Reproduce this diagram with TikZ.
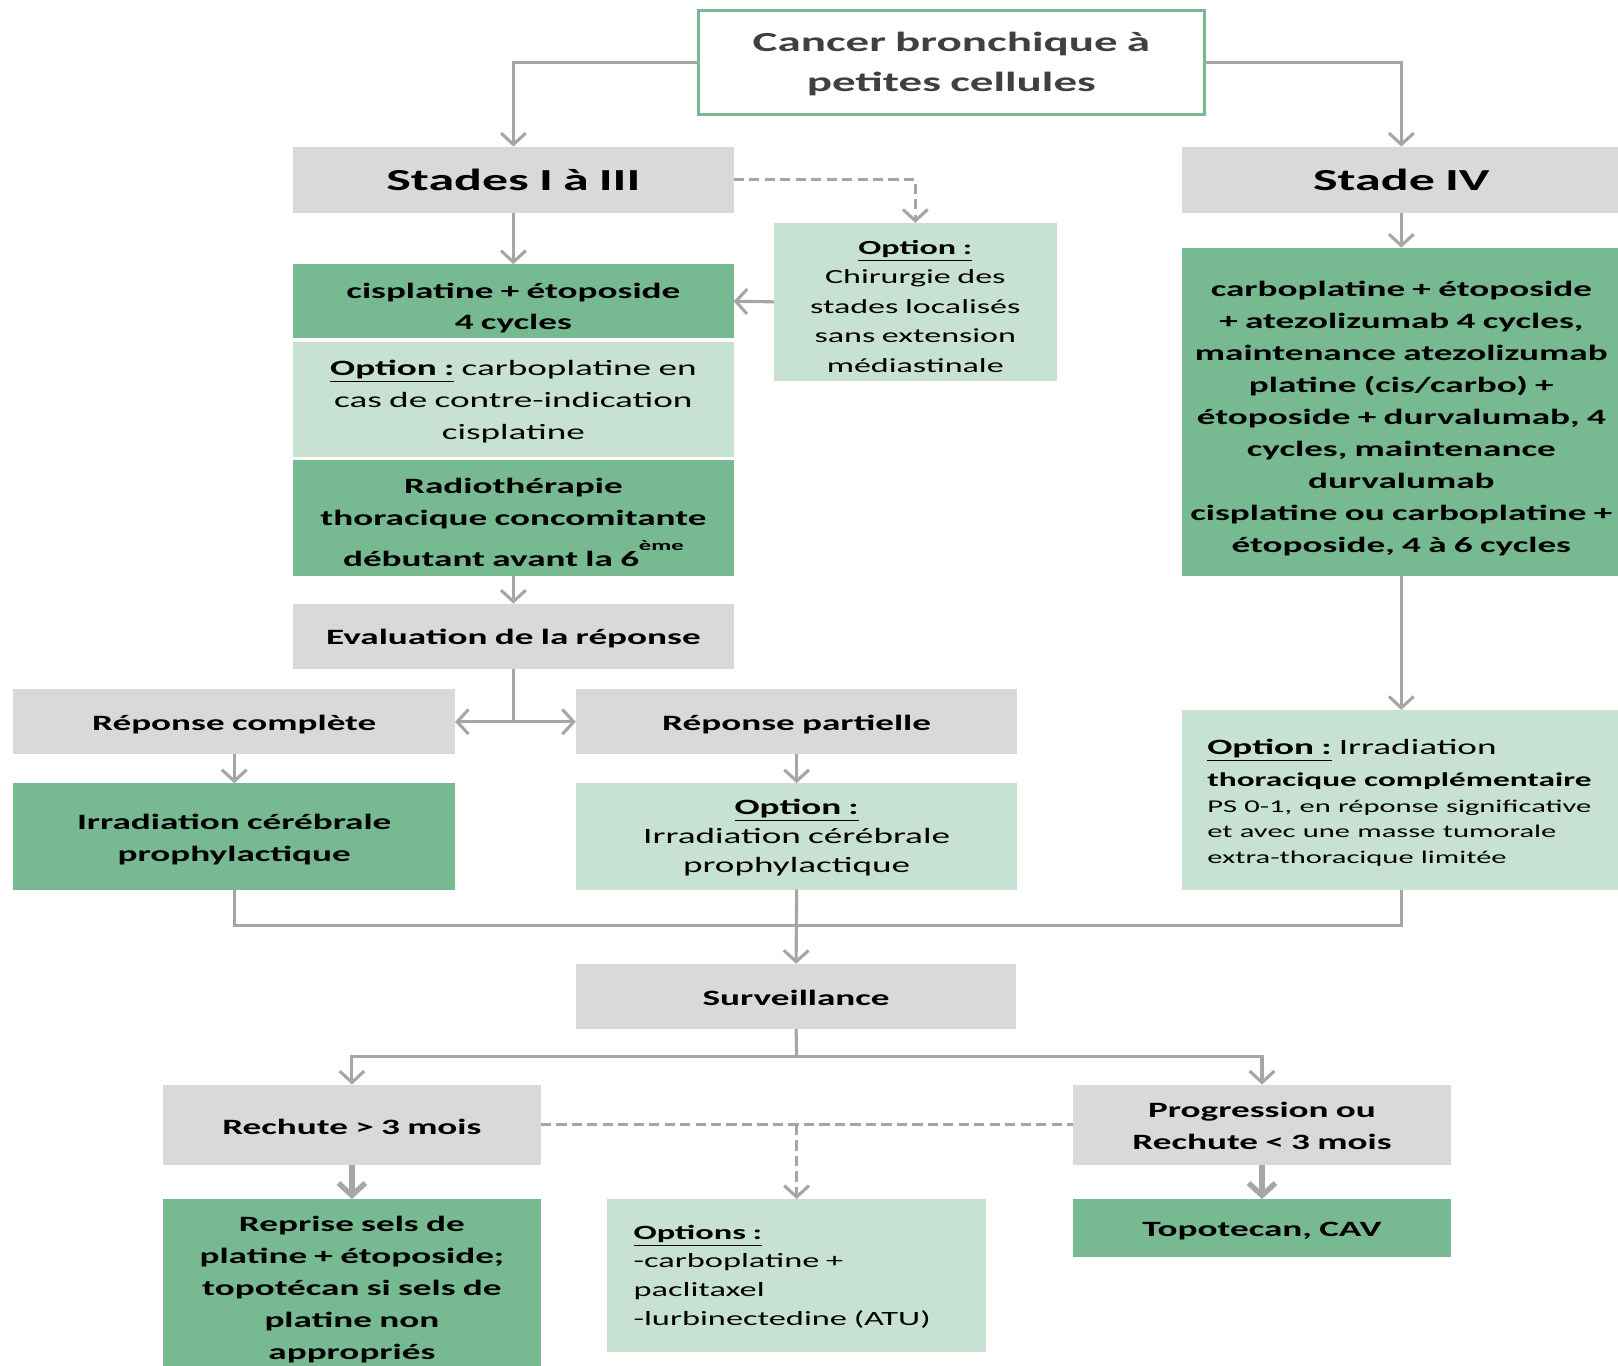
\documentclass[tikz,border=0pt]{standalone}
\usepackage{fontspec}
\setmainfont{Carlito}[FakeStretch=1.7]
\usetikzlibrary{arrows.meta}
\definecolor{boxgray}{HTML}{D9D9D9}
\definecolor{midgreen}{HTML}{77BA92}
\definecolor{lightgreen}{HTML}{C7E2D3}
\definecolor{linegray}{HTML}{A6A6A6}
\definecolor{titletext}{HTML}{404040}
\newcommand\bodyfont{\fontsize{10.6}{15.5}\selectfont\bfseries}
% \bx[text shift down]{name}{style}{x1}{y1}{x2}{y2}{text}
\newcommand\bx[8][0]{%
  \pgfmathsetmacro\bxcx{(#4+#6)/2}%
  \pgfmathsetmacro\bxcy{(#5+#7)/2}%
  \pgfmathsetmacro\bxty{(#5+#7)/2+#1}%
  \pgfmathsetmacro\bxw{(#6-#4)/2}%
  \pgfmathsetmacro\bxh{(#7-#5)/2}%
  \pgfmathsetmacro\bxt{(#6-#4)/2-6}%
  \node[#3, minimum width=\bxw pt, minimum height=\bxh pt] (#2) at (\bxcx,\bxcy) {};%
  \node[#3, fill=none, draw=none, text width=\bxt pt] (#2t) at (\bxcx,\bxty) {#8};%
}
\tikzset{
  base/.style={inner sep=0pt, outer sep=0pt, align=center, font=\bodyfont, text=black},
  graybox/.style={base, fill=boxgray},
  greenbox/.style={base, fill=midgreen},
  lightbox/.style={base, fill=lightgreen},
  ln/.style={draw=linegray, line width=1.5pt},
  tip/.style={-{Straight Barb[length=5.5pt,width=12pt]}},
  arr/.style={ln, tip},
  bigarr/.style={draw=linegray, line width=2.6pt, -{Straight Barb[length=6pt,width=13pt]}},
  dsh/.style={ln, dash pattern=on 5pt off 2.5pt},
}
\begin{document}
\begin{tikzpicture}[x=0.5pt, y=-0.5pt]
\useasboundingbox (0,0) rectangle (1568,1323);
\fill[white] (0,0) rectangle (1568,1323);
% title
\bx[1.5]{title}{base, draw=midgreen, line width=1.6pt, text=titletext, font=\fontsize{13.4}{19.5}\selectfont\bfseries}{677}{10}{1167}{111}{Cancer bronchique à\\petites cellules}
% left column
\bx{s13}{graybox, font=\fontsize{14.8}{18}\selectfont\bfseries}{284}{142}{711}{206}{Stades I à III}
\bx[6.5]{cis}{greenbox}{284}{256}{711}{328}{cisplatine + étoposide\\4 cycles}
\bx[2]{ocarb}{lightbox}{284}{331}{711}{443}{\underline{Option :}\mdseries\ carboplatine en\\cas de contre-indication\\cisplatine}
\bx[4]{radio}{greenbox}{284}{446}{711}{558}{Radiothérapie\\thoracique concomitante\\[4.5pt]débutant avant la 6\raisebox{7.5pt}{\fontsize{7}{7}\selectfont ème}}
\bx[4.5]{ochir}{lightbox, font=\fontsize{9.7}{14.3}\selectfont}{750}{216}{1024}{369}{\textbf{\underline{Option :}}\\Chirurgie des\\stades localisés\\sans extension\\médiastinale}
\bx[2]{eval}{graybox}{284}{585}{711}{648}{Evaluation de la réponse}
\bx[3]{rc}{graybox}{13}{668}{441}{731}{Réponse complète}
\bx[3]{rp}{graybox}{558}{668}{986}{731}{Réponse partielle}
\bx[3]{irc}{greenbox}{13}{759}{441}{862}{Irradiation cérébrale\\prophylactique}
\bx[1]{oirc}{lightbox, font=\fontsize{10.6}{14}\selectfont\bfseries}{558}{759}{986}{862}{\underline{Option :}\\\mdseries Irradiation cérébrale\\prophylactique}
% right column
\bx{s4}{graybox, font=\fontsize{14.8}{18}\selectfont\bfseries}{1145}{142}{1571}{206}{Stade IV}
\bx[6.5]{big}{greenbox}{1145}{240}{1571}{558}{carboplatine + étoposide\\+ atezolizumab 4 cycles,\\maintenance atezolizumab\\platine (cis/carbo) +\\étoposide + durvalumab, 4\\cycles, maintenance\\durvalumab\\cisplatine ou carboplatine +\\étoposide, 4 à 6 cycles}
\node[lightbox, minimum width=213pt, minimum height=87pt, anchor=north west] (opth) at (1145,688) {};
\node[base, align=left, anchor=north west, text width=210pt] (opthtxt) at (1170,716) {{\underline{Option :}\mdseries\ Irradiation\\{\fontsize{9.5}{15}\selectfont\bfseries thoracique complémentaire}\par}{\mdseries\fontsize{8.7}{12.5}\selectfont PS 0-1, en réponse significative\\et avec une masse tumorale\\extra-thoracique limitée\par}};
% bottom
\bx[2]{surv}{graybox}{558}{934}{985}{997}{Surveillance}
\bx[2]{r3}{graybox}{158}{1051}{524}{1129}{Rechute > 3 mois}
\bx[1]{prog}{graybox}{1040}{1051}{1406}{1129}{Progression ou\\Rechute < 3 mois}
\bx[1.5]{reprise}{greenbox}{158}{1162}{524}{1335}{Reprise sels de\\platine + étoposide;\\topotécan si sels de\\platine non\\appropriés}
\node[lightbox, minimum width=184pt, minimum height=74pt, anchor=north west] (opts) at (588,1162) {};
\node[base, align=left, anchor=north west, text width=170pt, font=\fontsize{9.8}{14}\selectfont] (optstxt) at (614,1187) {\textbf{\underline{Options :}}\\-carboplatine +\\paclitaxel\\-lurbinectedine (ATU)};
\bx[3]{topo}{greenbox}{1040}{1162}{1406}{1218}{Topotecan, CAV}
% connectors
\draw[arr] (title.west) -| (s13.north);
\draw[arr] (title.east) -| (s4.north);
\draw[dsh, tip] (s13.east) -| (ochir.north);
\draw[arr] (ochir.west) -- (cis.east);
\draw[arr] (s13.south) -- (cis.north);
\draw[arr] (radio.south) -- (eval.north);
\coordinate (j1) at (eval.south |- rc.east);
\draw[ln] (eval.south) -- (j1);
\draw[arr] (j1) -- (rc.east);
\draw[arr] (j1) -- (rp.west);
\draw[arr] (rc.south) -- (irc.north);
\draw[arr] (rp.south) -- (oirc.north);
\draw[arr] (s4.south) -- (big.north);
\draw[arr] (big.south) -- (opth.north);
\coordinate (m1) at (772,897);
\draw[ln] (irc.south) -- (irc.south |- m1) -- (opth.south |- m1) -- (opth.south);
\draw[arr] (oirc.south) -- (surv.north);
\coordinate (m2) at (772,1024);
\draw[ln] (surv.south) -- (m2);
\draw[arr] (m2) -| (r3.north);
\draw[arr] (m2) -| (prog.north);
\draw[dsh] (r3.east) -- (prog.west);
\coordinate (m3) at (opts.north |- r3.east);
\draw[dsh, tip] (m3) -- (opts.north);
\draw[bigarr] (r3.south) -- (reprise.north);
\draw[bigarr] (prog.south) -- (topo.north);
\end{tikzpicture}
\end{document}
